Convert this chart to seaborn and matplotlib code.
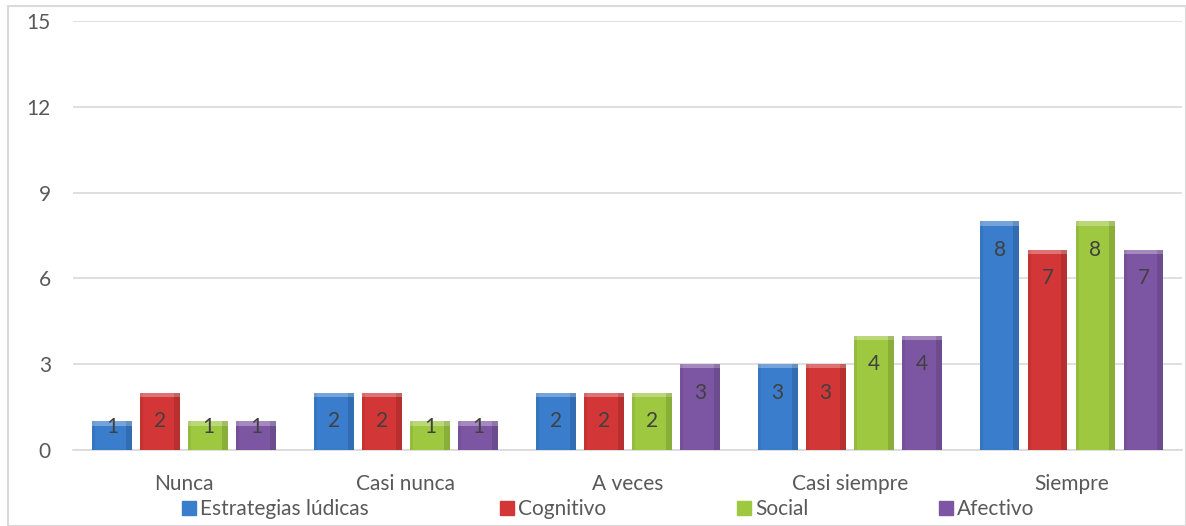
import numpy as np
import pandas as pd
import matplotlib
matplotlib.use("Agg")
import matplotlib.pyplot as plt
from matplotlib.patches import Rectangle
import seaborn as sns

# data
categorias = ["Nunca", "Casi nunca", "A veces", "Casi siempre", "Siempre"]
series = ["Estrategias lúdicas", "Cognitivo", "Social", "Afectivo"]
estrategias = [1, 2, 2, 3, 8]
cognitivo = [2, 2, 2, 3, 7]
social = [1, 1, 2, 4, 8]
afectivo = [1, 1, 3, 4, 7]

colores = ["#3a7dcc", "#d23636", "#9ec840", "#7d56a3"]
yticks = [0, 3, 6, 9, 12, 15]

# long form table for seaborn
rows = []
for nombre, vals in zip(series, [estrategias, cognitivo, social, afectivo]):
    for cat, v in zip(categorias, vals):
        rows.append({"categoria": cat, "serie": nombre, "valor": v})
df = pd.DataFrame(rows)

sns.set_style("white")
plt.rcParams["font.family"] = ["Lato", "DejaVu Sans"]
fs = 15

fig = plt.figure(figsize=(11.86, 5.26), dpi=100)
ax = fig.add_axes([0.0616, 0.1445, 0.9354, 0.8155])

sns.barplot(data=df, x="categoria", y="valor", hue="serie", order=categorias,
            hue_order=series, palette=colores, width=0.865, gap=0.17,
            edgecolor="none", linewidth=0, ax=ax, legend=False, zorder=3,
            saturation=1)

# light top cap / darker right side to hint at the bevel look
for cont in ax.containers:
    for b in cont:
        x0, w, h = b.get_x(), b.get_width(), b.get_height()
        ax.add_patch(Rectangle((x0, h - 0.15), w, 0.15, color="white",
                               alpha=0.3, lw=0, zorder=4))
        ax.add_patch(Rectangle((x0 + w * 0.85, 0), w * 0.15, h, color="black",
                               alpha=0.12, lw=0, zorder=4))
        ax.add_patch(Rectangle((x0, 0), w * 0.08, h, color="black",
                               alpha=0.06, lw=0, zorder=4))

# data labels
for cont in ax.containers:
    for b in cont:
        v = b.get_height()
        ypos = v - 1 if v >= 2 else v * 0.8
        ax.text(b.get_x() + b.get_width() / 2, ypos, f"{int(v)}",
                ha="center", va="center", fontsize=fs, color="#404040",
                zorder=5)

ax.set_ylim(0, 15)
ax.set_xlim(-0.5, 4.5)
ax.set_yticks(yticks)
ax.yaxis.grid(True, color="#d9d9d9", lw=1.2, zorder=0)
ax.set_axisbelow(True)
for s in ["top", "right", "left"]:
    ax.spines[s].set_visible(False)
ax.spines["bottom"].set_color("#d9d9d9")
ax.spines["bottom"].set_linewidth(1.2)
ax.tick_params(axis="both", length=0, labelsize=fs, colors="#595959")
ax.tick_params(axis="y", pad=16)
ax.tick_params(axis="x", pad=17)
ax.set_xlabel("")
ax.set_ylabel("")

handles = [Rectangle((0, 0), 1, 1, facecolor=c, edgecolor=c) for c in colores]
fig.legend(handles, series, loc="center", bbox_to_anchor=(0.513, 0.032),
           ncol=4, frameon=False, fontsize=fs, labelcolor="#595959",
           handlelength=0.65, handleheight=0.65, handletextpad=0.2,
           columnspacing=6.3)

# outer chart border
fig.add_artist(Rectangle((8 / 1186, 0), 1 - 8 / 1186, 1 - 6 / 526,
                         transform=fig.transFigure, fill=False,
                         edgecolor="#d9d9d9", lw=1.5))

fig.savefig("out.png", dpi=100)
